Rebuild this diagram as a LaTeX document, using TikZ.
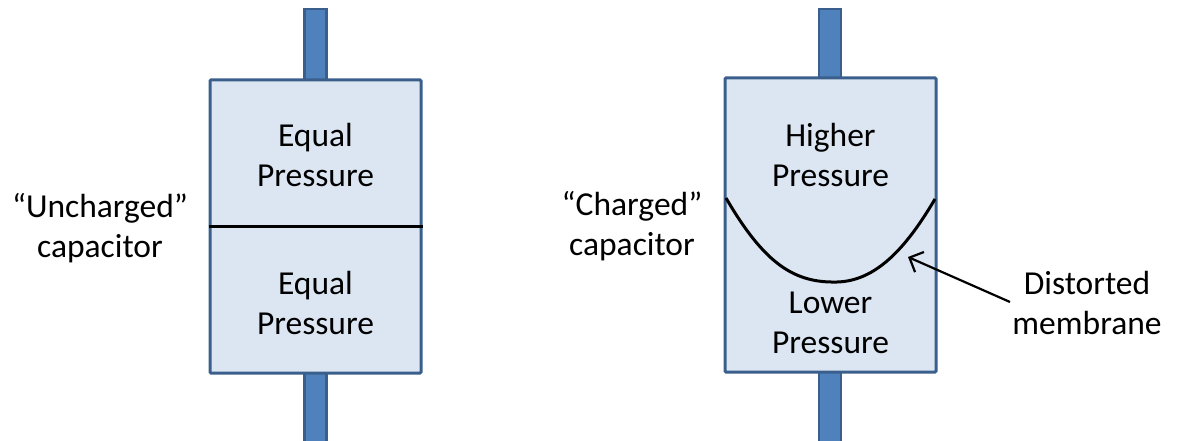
\documentclass[tikz,border=0pt]{standalone}
\usepackage{fontspec}
\setmainfont{Carlito}
\usetikzlibrary{arrows.meta}
\definecolor{boxfill}{HTML}{DCE6F2}
\definecolor{boxline}{HTML}{3A5F8C}
\definecolor{pipefill}{HTML}{4F81BD}

\begin{document}
\begin{tikzpicture}[x=1pt,y=-1pt,
  vessel/.style={draw=boxline, fill=boxfill, line width=3pt, inner sep=0pt,
    minimum width=211pt, rounded corners=1pt},
  pipe/.style={draw=boxline, fill=pipefill, line width=2.5pt, inner sep=0pt,
    minimum width=22pt, minimum height=451pt},
  txt/.style={font=\fontsize{33.5}{40}\selectfont, align=center, text=black, inner sep=0pt},
  membrane/.style={draw=black, line width=3pt},
  pointer/.style={draw=black, line width=2.2pt, -{Straight Barb[length=11pt, width=22pt, line width=2.2pt]}},
]
\useasboundingbox (0,0) rectangle (1180,441);

% connecting pipes (run behind each vessel)
\node[pipe] (pipeL) at (315.5,234.5) {};
\node[pipe] (pipeR) at (830,234.5) {};

% vessels
\node[vessel, minimum height=293pt] (boxL) at (315.5,226.5) {};
\node[vessel, minimum height=294pt] (boxR) at (830.5,225) {};

% flat membrane in the uncharged capacitor
\draw[membrane] (boxL.west) -- (boxL.east);

% distorted membrane in the charged capacitor
\coordinate (mL) at (726,198);
\coordinate (mB) at (837,282);
\coordinate (mR) at (935,199);
\draw[membrane] (mL) .. controls (765,265) and (795,283) .. (mB)
                     .. controls (875,281) and (905,250) .. (mR);

% chamber labels
\node[txt] (eqTop) at (315.5,155) {Equal\\Pressure};
\node[txt] (eqBot) at (315.5,303) {Equal\\Pressure};
\node[txt] (hiTop) at (830.5,155) {Higher\\Pressure};
\node[txt] (loBot) at (830.5,323) {Lower\\Pressure};

% side captions
\node[txt] (capL) at (100,228) {“Uncharged”\\capacitor};
\node[txt] (capR) at (632,226) {“Charged”\\capacitor};
\node[txt] (memb) at (1087,303) {Distorted\\membrane};

% pointer to the membrane
\coordinate (tail) at (1010,302);
\coordinate (tip) at (908,257);
\draw[pointer] (tail) -- (tip);
\end{tikzpicture}
\end{document}
